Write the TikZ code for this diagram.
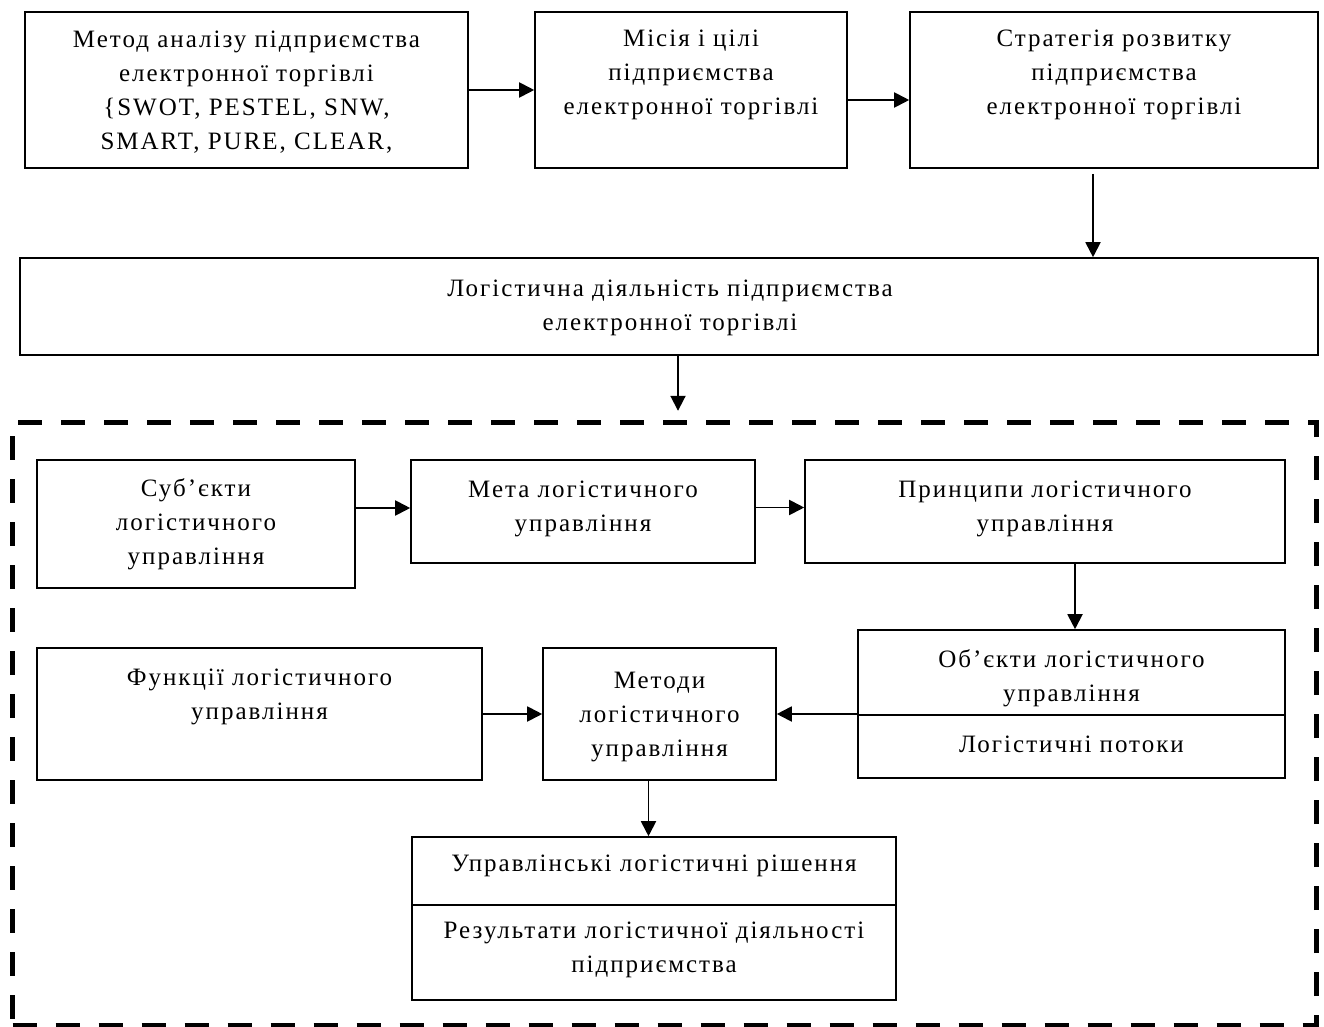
\documentclass[tikz,border=0pt]{standalone}
\usepackage{fontspec}
\setmainfont[LetterSpace=8]{Liberation Serif}
\usetikzlibrary{arrows.meta,calc}
\tikzset{
  box/.style={draw, line width=1.6pt, rectangle, inner sep=0pt},
  lbl/.style={align=center, inner sep=0pt, font=\fontsize{25}{34}\selectfont},
  arr/.style={line width=1.9pt, -{Triangle[length=15pt,width=15pt]}},
  frame/.style={line width=5pt, dash pattern=on 24pt off 19pt},
}
\begin{document}
\begin{tikzpicture}[x=1pt,y=-1pt]
\useasboundingbox (0,0) rectangle (1324,1027);
\fill[white] (0,0) rectangle (1324,1027);

% top row
\node[box, minimum width=443pt, minimum height=156pt] (b1) at (246.5,90) {};
\node[box, minimum width=312pt, minimum height=156pt] (b2) at (691,90) {};
\node[box, minimum width=408pt, minimum height=156pt] (b3) at (1114,90) {};
\node[lbl] (t1) at (246.5,92) {Метод аналізу підприємства\\електронної торгівлі\\\{SWOT, PESTEL, SNW,\\SMART, PURE, CLEAR,};
\node[lbl] (t2) at (691,75) {Місія і цілі\\підприємства\\електронної торгівлі};
\node[lbl] (t3) at (1114,75) {Стратегія розвитку\\підприємства\\електронної торгівлі};

% activity box
\node[box, minimum width=1298pt, minimum height=97pt] (b4) at (669,306.5) {};
\node[lbl] (t4) at (670,308) {Логістична діяльність підприємства\\електронної торгівлі};

% dashed frame
\node[frame, draw, minimum width=1304pt, minimum height=603pt, inner sep=0pt] (fr) at (664.5,723.5) {};

% inner boxes
\node[box, minimum width=318pt, minimum height=128pt] (b5) at (196,524) {};
\node[lbl] (t5) at (196,524) {Суб’єкти\\логістичного\\управління};
\node[box, minimum width=344pt, minimum height=103pt] (b6) at (583,511.5) {};
\node[lbl] (t6) at (583,509) {Мета логістичного\\управління};
\node[box, minimum width=480pt, minimum height=103pt] (b7) at (1045,511.5) {};
\node[lbl] (t7) at (1045,509) {Принципи логістичного\\управління};

\node[box, minimum width=427pt, minimum height=148pt] (b8) at (1071.5,704) {};
\draw[line width=1.6pt] (b8.west |- 0,715) -- (b8.east |- 0,715);
\node[lbl] (t8) at (1071.5,678) {Об’єкти логістичного\\управління};
\node[lbl] (t8b) at (1071.5,744) {Логістичні потоки};

\node[box, minimum width=445pt, minimum height=132pt] (b9) at (259.5,714) {};
\node[lbl] (t9) at (259.5,697) {Функції логістичного\\управління};
\node[box, minimum width=233pt, minimum height=132pt] (b10) at (659.5,714) {};
\node[lbl] (t10) at (659.5,717) {Методи\\логістичного\\управління};

\node[box, minimum width=484pt, minimum height=163pt] (b11) at (654,918.5) {};
\draw[line width=1.6pt] (b11.west |- 0,905) -- (b11.east |- 0,905);
\node[lbl] (t11) at (654,866) {Управлінські логістичні рішення};
\node[lbl] (t11b) at (654,950) {Результати логістичної діяльності\\підприємства};

% connectors
\draw[arr] (b1.east) -- (b2.west);
\draw[arr] ([yshift=-10pt]b2.east) -- ([yshift=-10pt]b3.west);
\draw[arr] ([xshift=-21pt,yshift=-5pt]b3.south) -- ([xshift=-21pt]b3.south |- b4.north);
\draw[arr] ([xshift=9pt]b4.south) -- ([xshift=9pt,yshift=-55pt]b4.south);
\draw[arr] ([yshift=16pt]b5.east) -- ([yshift=16pt]b5.east -| b6.west);
\draw[arr] ([yshift=4pt]b6.east) -- ([yshift=4pt]b6.east -| b7.west);
\draw[arr] ([xshift=30pt]b7.south) -- ([xshift=30pt]b7.south |- b8.north);
\draw[arr] (b9.east) -- (b10.west);
\draw[arr] (b8.west |- b10.east) -- (b10.east);
\draw[arr] ([xshift=-11pt]b10.south) -- ([xshift=-11pt]b10.south |- b11.north);
\end{tikzpicture}
\end{document}
